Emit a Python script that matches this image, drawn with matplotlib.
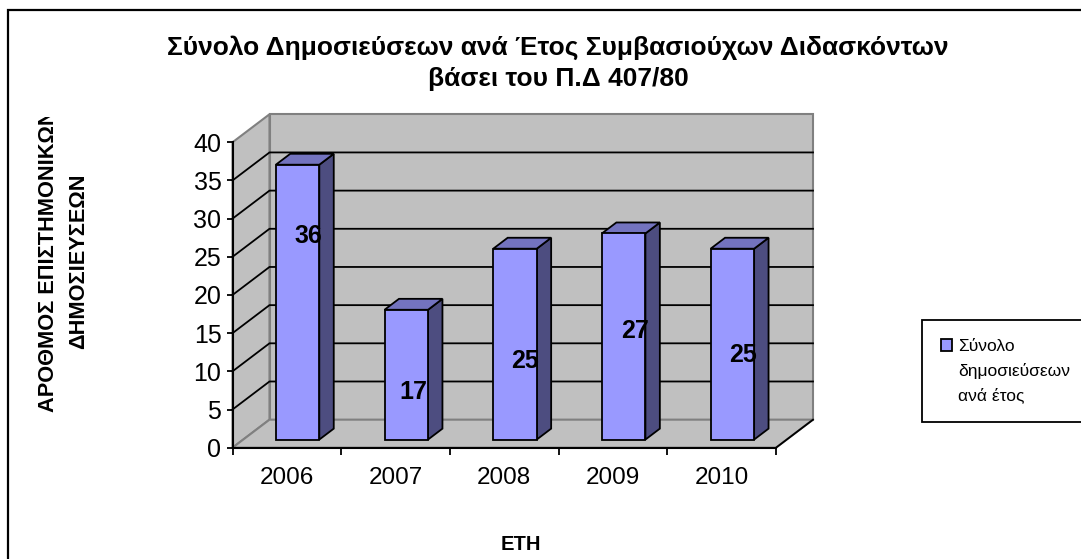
import matplotlib
matplotlib.use('Agg')
import matplotlib.pyplot as plt
from matplotlib.patches import Polygon, Patch, Rectangle
from matplotlib.transforms import Bbox

plt.rcParams['font.family'] = ['Liberation Sans', 'DejaVu Sans']

# data
years = ['2006', '2007', '2008', '2009', '2010']
values = [36, 17, 25, 27, 25]
y_ticks = [0, 5, 10, 15, 20, 25, 30, 35, 40]
label_heights = [27.75, 7.35, 11.35, 15.25, 12.15]   # where the value labels sit, in axis units
label_shift = [0.7, 0.66, 0.69, 0.7, 0.7]

title = 'Σύνολο Δημοσιεύσεων ανά Έτος Συμβασιούχων Διδασκόντων\nβάσει του Π.Δ 407/80'
y_title = 'ΑΡΟΘΜΟΣ ΕΠΙΣΤΗΜΟΝΙΚΩΝ\nΔΗΜΟΣΙΕΥΣΕΩΝ'
x_title = 'ΕΤΗ'
legend_lines = ['Σύνολο', 'δημοσιεύσεων', 'ανά έτος']

W, H = 1081, 559
DX, DY = 37 / 108.7, 28 / 7.625     # depth of the fake 3d box in axis units

WALL = '#C0C0C0'
EDGE = '#808080'
FRONT = '#9999FF'
TOP = '#7373BF'
SIDE = '#4D4D80'


# oblique projection: depth 0 is the front plane, 1 the back wall
def pr(x, y, d=0.):
    return (x + DX * d, y + DY * d)


def poly(ax, pts, fc, ec, lw, z):
    ax.add_patch(Polygon([pr(*p) for p in pts], closed=True, fc=fc, ec=ec, lw=lw,
                         zorder=z, clip_on=False, joinstyle='miter'))


fig = plt.figure(figsize=(W / 100, H / 100), dpi=100, facecolor='white')

# outer frame of the chart, runs off the right and the bottom of the picture
fig.add_artist(Rectangle((8 / W, -0.05), 1.05, 1.05 - 10 / H, transform=fig.transFigure,
                         fc='none', ec='black', lw=1.6))

ax = fig.add_axes([232.5 / W, 1 - 447.7 / H, (776 - 232.5) / W, (447.7 - 142.3) / H])
ax.patch.set_visible(False)
ax.set_xlim(0, len(years))
ax.set_ylim(0, 40)

for s in ['top', 'right']:
    ax.spines[s].set_visible(False)
for s in ['left', 'bottom']:
    ax.spines[s].set_linewidth(1.5)
    ax.spines[s].set_zorder(6)

# walls and floor
n = len(years)
poly(ax, [(0, 0, 0), (0, 40, 0), (0, 40, 1), (0, 0, 1)], WALL, EDGE, 1.5, 1)
poly(ax, [(0, 0, 1), (0, 40, 1), (n, 40, 1), (n, 0, 1)], WALL, EDGE, 1.5, 1)
poly(ax, [(0, 0, 0), (0, 0, 1), (n, 0, 1), (n, 0, 0)], WALL, EDGE, 1.5, 1)

# right edge of the floor is black
xs, ys = zip(pr(n, 0, 0), pr(n, 0, 1))
ax.plot(xs, ys, color='black', lw=1.3, zorder=2, clip_on=False)

# gridlines go along the left wall and then across the back
for v in y_ticks[1:-1]:
    xs, ys = zip(pr(0, v, 0), pr(0, v, 1), pr(n, v, 1))
    ax.plot(xs, ys, color='black', lw=1.3, zorder=2, clip_on=False, solid_joinstyle='miter')

# bars
d0, d1 = 0.29, 0.68
for i, v in enumerate(values):
    x0, x1 = i + 0.3, i + 0.7
    poly(ax, [(x1, 0, d0), (x1, v, d0), (x1, v, d1), (x1, 0, d1)], SIDE, 'black', 1.3, 3)
    poly(ax, [(x0, v, d0), (x1, v, d0), (x1, v, d1), (x0, v, d1)], TOP, 'black', 1.3, 3)
    poly(ax, [(x0, 0, d0), (x1, 0, d0), (x1, v, d0), (x0, v, d0)], FRONT, 'black', 1.3, 4)
    ax.text(i + label_shift[i], label_heights[i], str(v), fontsize=18, fontweight='bold',
            ha='center', va='center', color='black', zorder=7)

ax.set_yticks(y_ticks)
ax.tick_params(axis='y', labelsize=18, length=4, width=1.3, pad=4)
ax.set_xticks(range(n + 1))
ax.set_xticklabels([])
ax.tick_params(axis='x', which='major', length=5, width=1.3)
ax.set_xticks([i + 0.5 for i in range(n)], minor=True)
ax.set_xticklabels(years, minor=True)
ax.tick_params(axis='x', which='minor', length=0, labelsize=17.5, pad=14)

fig.text(558 / W, 1 - 63.5 / H, title, fontsize=19, fontweight='bold', ha='center', va='center',
         linespacing=1.37)
fig.text(520.5 / W, 1 - 544 / H, x_title, fontsize=14.5, fontweight='bold', ha='center', va='center')

yl = fig.text(63.5 / W, 1 - 261 / H, y_title, fontsize=15.7, fontweight='bold', rotation=90,
              ha='center', va='center', multialignment='center', linespacing=1.55)
# the long line is cut off at the top in the original
yl.set_clip_box(Bbox([[0, 0], [W, H - 117]]))
yl.set_clip_on(True)

# legend box runs into the right edge, only the first line has a swatch
handles = [Patch(fc=FRONT, ec='black', lw=1.3, label=legend_lines[0])]
handles += [Patch(visible=False, label=t) for t in legend_lines[1:]]
leg = fig.legend(handles=handles, loc='upper left',
                 bbox_to_anchor=(922 / W, 1 - 421 / H, (1081 + 5 - 922) / W, 101 / H),
                 mode='expand', fontsize=12.5, frameon=True, fancybox=False, edgecolor='black',
                 framealpha=1, borderaxespad=0, borderpad=1.1, handlelength=0.63, handleheight=0.63,
                 handletextpad=0.35, labelspacing=0.49)
leg.get_frame().set_linewidth(1.3)

fig.savefig('out.png', dpi=100)
